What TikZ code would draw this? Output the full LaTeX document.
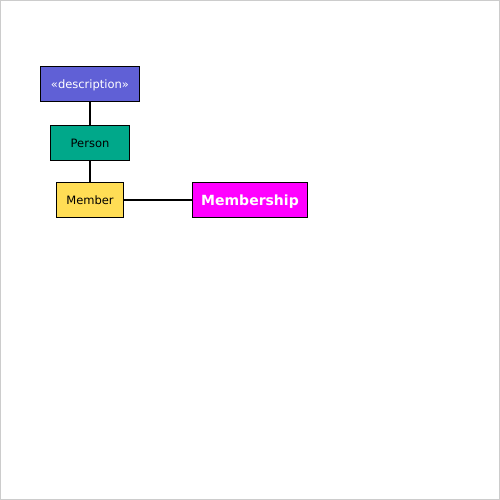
\documentclass[tikz,border=0pt]{standalone}
\usepackage{fontspec}
\setmainfont{DejaVu Sans}
\definecolor{cdesc}{RGB}{96,96,214}
\definecolor{cperson}{RGB}{0,168,138}
\definecolor{cmember}{RGB}{255,221,85}
\definecolor{cship}{RGB}{255,0,255}
\definecolor{cframe}{RGB}{204,204,204}
\tikzset{
  box/.style={draw=black, line width=1pt, inner sep=0pt, anchor=north west, text depth=0pt},
  link/.style={draw=black, line width=1.6pt},
}
\begin{document}
\begin{tikzpicture}[x=1pt,y=-1pt]
\useasboundingbox (0,0) rectangle (500,500);
\draw[cframe, line width=1pt] (0.5,0.5) rectangle (499.5,499.5);
\node[box, fill=cdesc, text=white, minimum width=99pt, minimum height=35pt, font=\fontsize{11.5}{13}\selectfont] (desc) at (40,66) {«description»};
\node[box, fill=cperson, text=black, minimum width=79pt, minimum height=35pt, font=\fontsize{11.5}{13}\selectfont] (person) at (50,125) {Person};
\node[box, fill=cmember, text=black, minimum width=67pt, minimum height=35pt, font=\fontsize{11.5}{13}\selectfont] (member) at (56,182) {Member};
\node[box, fill=cship, text=white, minimum width=115pt, minimum height=35pt, font=\fontsize{14}{16}\selectfont\bfseries] (ship) at (192,182) {Membership};
\draw[link] (desc.south) -- (person.north);
\draw[link] (person.south) -- (member.north);
\draw[link] (member.east) -- (ship.west);
\end{tikzpicture}
\end{document}
